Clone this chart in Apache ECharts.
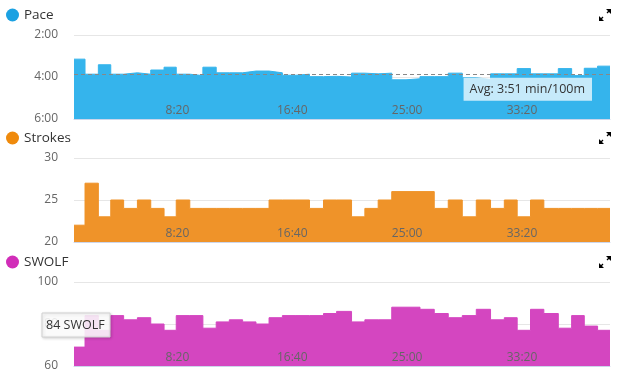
<!DOCTYPE html>
<html><head><meta charset="utf-8">
<script src="https://cdn.jsdelivr.net/npm/echarts@6/dist/echarts.min.js"></script>
<style>html,body{margin:0;padding:0;background:#fff}#c{width:620px;height:375px}</style>
</head><body><div id="c"></div>
<script>
// lap boundaries (elapsed seconds): start of each of 40 laps, plus end of last lap
const lapBounds = [50, 98, 156, 210, 266, 326, 384, 442, 495, 554, 611, 669, 726, 784, 842, 899, 957, 1016, 1075, 1136,
  1193, 1258, 1316, 1374, 1433, 1495, 1556, 1618, 1679, 1740, 1801, 1863, 1923, 1979, 2037, 2095, 2158, 2216, 2271, 2329, 2383];
// pace, seconds per 100m
const pace = [189, 232, 205, 232, 228, 232, 220, 212, 232, 236, 212, 228, 228, 223, 223, 228, 235, 232, 239, 238,
  240, 229, 231, 229, 248, 245, 239, 239, 229, 242, 247, 231, 231, 216, 231, 231, 216, 236, 215, 209];
const strokes = [22, 27, 23, 25, 24, 25, 24, 23, 25, 24, 24, 24, 24, 24, 24, 25, 25, 25, 24, 25,
  25, 23, 24, 25, 26, 26, 26, 24, 25, 23, 25, 24, 25, 23, 25, 24, 24, 24, 24, 24];
const swolf = [69, 84, 77, 84, 82, 83, 80, 77, 84, 84, 78, 81, 82, 81, 80, 83, 84, 84, 84, 85,
  86, 81, 82, 82, 88, 88, 87, 85, 83, 84, 87, 82, 83, 77, 87, 85, 78, 84, 79, 77];
const avgPace = 231;
const xTicks = [500, 1000, 1500, 2000];
const paceTicks = [120, 240, 360];
const strokeTicks = [20, 25, 30];
const swolfTicks = [60, 80, 100];
const hoverText = '84 SWOLF';

function mmss(v){ v = Math.round(v); return Math.floor(v/60) + ':' + String(v%60).padStart(2,'0'); }
function stepData(vals){
  const d = vals.map((v,i)=>[lapBounds[i], v]);
  d.push([lapBounds[lapBounds.length-1], vals[vals.length-1]]);
  return d;
}
const FONT = '"Open Sans", "Noto Sans", sans-serif';
const gridBase = {left: 74, right: 10, height: 84};
const tops = [35, 158, 282];
const names = ['Pace', 'Strokes', 'SWOLF'];
const fills = ['#35b4ec', '#ef9329', '#d446c0'];
const dots = ['#1ba1e2', '#ef8a0c', '#d12db8'];

function xAxis(i){
  return {type:'value', gridIndex:i, z:10, min:lapBounds[0], max:lapBounds[lapBounds.length-1],
    axisLine:{show:true, lineStyle:{color:'#ccd6eb', width:1}}, axisTick:{show:false}, splitLine:{show:false},
    axisLabel:{inside:true, margin:2, customValues:xTicks, formatter:mmss, color:'#666', fontSize:12, fontFamily:FONT}};
}
function yAxis(i, ticks, fmt, inverse){
  return {type:'value', gridIndex:i, min:ticks[0], max:ticks[ticks.length-1], interval:ticks[1]-ticks[0], inverse:!!inverse,
    axisLine:{show:false}, axisTick:{show:false},
    splitLine:{show:true, lineStyle:{color:'#e6e6e6', width:1}},
    axisLabel:{margin:16, color:'#666', fontSize:12, fontFamily:FONT, formatter: fmt || (v=>String(v))}};
}
function expandIcon(cy){
  return {type:'group', x:605, y:cy, children:[
    {type:'polygon', shape:{points:[[1,-6],[6,-6],[6,-1]]}, style:{fill:'#000'}},
    {type:'polygon', shape:{points:[[-6,1],[-6,6],[-1,6]]}, style:{fill:'#000'}},
    {type:'line', shape:{x1:2,y1:-2,x2:4,y2:-4}, style:{stroke:'#000', lineWidth:1.2}},
    {type:'line', shape:{x1:-2,y1:2,x2:-4,y2:4}, style:{stroke:'#000', lineWidth:1.2}}
  ]};
}

const chart = echarts.init(document.getElementById('c'), null, {renderer:'canvas'});
const option = {
  animation:false,
  grid: tops.map(t=>Object.assign({top:t}, gridBase)),
  legend: names.map((n,i)=>({data:[{name:n, itemStyle:{color:dots[i]}}], left:6, top:tops[i]-27, padding:0,
    icon:'circle', itemWidth:13, itemHeight:13, selectedMode:false,
    textStyle:{color:'#333', fontSize:13.5, fontFamily:FONT}})),
  xAxis: [xAxis(0), xAxis(1), xAxis(2)],
  yAxis: [yAxis(0, paceTicks, mmss, true), yAxis(1, strokeTicks), yAxis(2, swolfTicks)],
  series: [
    {name:'Pace', type:'line', xAxisIndex:0, yAxisIndex:0, step:'end', showSymbol:false, data:stepData(pace),
     lineStyle:{color:fills[0], width:1}, itemStyle:{color:fills[0]}, areaStyle:{color:fills[0], opacity:1, origin:'end'},
     markLine:{silent:true, symbol:'none', data:[{yAxis:avgPace}],
       lineStyle:{type:[4,3], color:'#888', width:1},
       label:{position:'insideEndBottom', distance:[18,4], formatter:'Avg: ' + mmss(avgPace) + ' min/100m',
         color:'#333', fontSize:12.5, fontFamily:FONT, backgroundColor:'rgba(255,255,255,0.72)', padding:[5,7,5,6]}}},
    {name:'Strokes', type:'line', xAxisIndex:1, yAxisIndex:1, step:'end', showSymbol:false, data:stepData(strokes),
     lineStyle:{color:fills[1], width:1}, itemStyle:{color:fills[1]}, areaStyle:{color:fills[1], opacity:1, origin:'start'}},
    {name:'SWOLF', type:'line', xAxisIndex:2, yAxisIndex:2, step:'end', showSymbol:false, data:stepData(swolf),
     lineStyle:{color:fills[2], width:1}, itemStyle:{color:fills[2]}, areaStyle:{color:fills[2], opacity:1, origin:'start'}}
  ],
  graphic: [
    expandIcon(15), expandIcon(138), expandIcon(262),
    {type:'group', x:42, y:313, z:100, zlevel:1, children:[
      {type:'rect', z:100, zlevel:1, shape:{x:0, y:0, width:68, height:24}, style:{fill:'rgba(255,255,255,0.86)', stroke:'#d0d0d0', lineWidth:1,
        shadowBlur:3, shadowOffsetX:1, shadowOffsetY:1, shadowColor:'rgba(0,0,0,0.18)'}},
      {type:'text', z:101, zlevel:1, x:4, y:12, style:{text:hoverText, fill:'#333', fontSize:12.5, fontFamily:FONT, verticalAlign:'middle'}}
    ]}
  ]
};
chart.setOption(option);
</script></body></html>
